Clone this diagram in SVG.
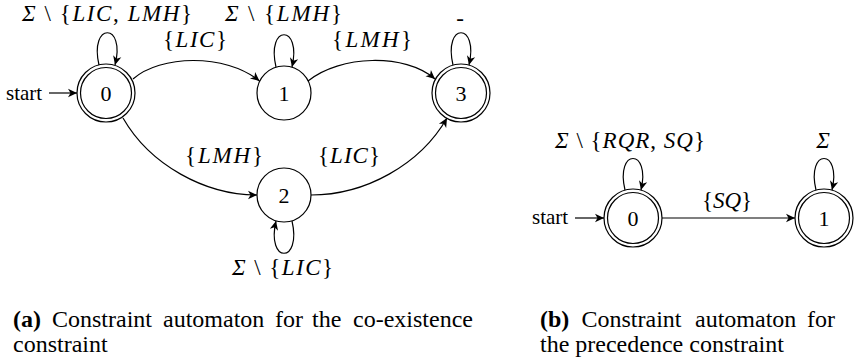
<svg xmlns="http://www.w3.org/2000/svg" width="855" height="361" viewBox="0 0 855 361">
<style>
.st{fill:#fff;stroke:#000;stroke-width:1.2}
.e{fill:none;stroke:#000;stroke-width:1.2;marker-end:url(#ah)}
.d{font-family:"Liberation Serif",serif;font-size:22px;text-anchor:middle;fill:#000}
.m{font-family:"Liberation Serif",serif;font-size:23px;text-anchor:middle;fill:#000}
.i{font-style:italic}
.t{font-family:"Liberation Serif",serif;font-size:21px;fill:#000}
.c{font-family:"Liberation Serif",serif;font-size:24px;fill:#000}
.b{font-weight:bold}
</style>
<defs>
<marker id="ah" markerUnits="userSpaceOnUse" markerWidth="12" markerHeight="12" viewBox="-10 -6 12 12" refX="0" refY="0" orient="auto">
<path d="M0,0 L-9,-4.2 L-6.5,0 L-9,4.2 Z" fill="#000"/>
</marker>
</defs>

<!-- (a) nodes -->
<g id="a0">
<circle class="st" cx="106" cy="93" r="29"/>
<circle class="st" cx="106" cy="93" r="25.5"/>
<text class="d" x="106" y="100.5">0</text>
</g>
<g id="a1">
<circle class="st" cx="284" cy="93" r="27"/>
<text class="d" x="284" y="100.5">1</text>
</g>
<g id="a2">
<circle class="st" cx="284" cy="195" r="27"/>
<text class="d" x="284" y="202.5">2</text>
</g>
<g id="a3">
<circle class="st" cx="461" cy="93" r="29"/>
<circle class="st" cx="461" cy="93" r="25.5"/>
<text class="d" x="461" y="100.5">3</text>
</g>

<!-- (b) nodes -->
<g id="b0">
<circle class="st" cx="633" cy="218" r="29"/>
<circle class="st" cx="633" cy="218" r="25.5"/>
<text class="d" x="633" y="225.5">0</text>
</g>
<g id="b1">
<circle class="st" cx="824" cy="218" r="29"/>
<circle class="st" cx="824" cy="218" r="25.5"/>
<text class="d" x="824" y="225.5">1</text>
</g>

<!-- connectors -->
<g id="connectors">
<path class="e" d="M49,93 L77,93"/>
<path class="e" d="M99,65 C89,22 126,22 115,65"/>
<path class="e" d="M133,79 C160,55 225,53 259.5,81"/>
<path class="e" d="M276,67 C266,24 302,24 292,67"/>
<path class="e" d="M308,81 C340,55 405,53 435,79"/>
<path class="e" d="M453,65 C443,22 479,22 469,65"/>
<path class="e" d="M123,118 C150,165 205,195 257,195"/>
<path class="e" d="M292,221 C302,264 266,264 276,221"/>
<path class="e" d="M311,195 C365,195 420,165 447,118"/>

<path class="e" d="M575,218 L604,218"/>
<path class="e" d="M625,190 C615,148 651,148 641,190"/>
<path class="e" d="M662,218 L795,218"/>
<path class="e" d="M816,190 C806,148 842,148 832,190"/>
</g>

<!-- labels (a) -->
<g id="labels-a">
<text class="t" x="6" y="100">start</text>
<text class="m" x="107" y="21" textLength="170" lengthAdjust="spacing"><tspan class="i">Σ</tspan> \ {<tspan class="i">LIC</tspan>, <tspan class="i">LMH</tspan>}</text>
<text class="m" x="195" y="47" textLength="64" lengthAdjust="spacing">{<tspan class="i">LIC</tspan>}</text>
<text class="m" x="283.5" y="21" textLength="117" lengthAdjust="spacing"><tspan class="i">Σ</tspan> \ {<tspan class="i">LMH</tspan>}</text>
<text class="m" x="372" y="47" textLength="80" lengthAdjust="spacing">{<tspan class="i">LMH</tspan>}</text>
<text class="m" x="460" y="26">-</text>
<text class="m" x="224" y="163" textLength="78" lengthAdjust="spacing">{<tspan class="i">LMH</tspan>}</text>
<text class="m" x="349" y="163" textLength="62" lengthAdjust="spacing">{<tspan class="i">LIC</tspan>}</text>
<text class="m" x="282.5" y="275" textLength="101" lengthAdjust="spacing"><tspan class="i">Σ</tspan> \ {<tspan class="i">LIC</tspan>}</text>
</g>

<!-- labels (b) -->
<g id="labels-b">
<text class="t" x="532" y="224">start</text>
<text class="m" x="630" y="148" textLength="150" lengthAdjust="spacing"><tspan class="i">Σ</tspan> \ {<tspan class="i">RQR</tspan>, <tspan class="i">SQ</tspan>}</text>
<text class="m i" x="823" y="148">Σ</text>
<text class="m" x="727" y="208" textLength="50" lengthAdjust="spacing">{<tspan class="i">SQ</tspan>}</text>
</g>

<!-- captions -->
<g id="caption-a">
<text class="c b" x="13" y="327">(a)</text>
<text class="c" x="52" y="327">Constraint</text>
<text class="c" x="163" y="327">automaton</text>
<text class="c" x="275" y="327">for</text>
<text class="c" x="312" y="327">the</text>
<text class="c" x="473" y="327" text-anchor="end">co-existence</text>
<text class="c" x="13" y="352">constraint</text>
</g>
<g id="caption-b">
<text class="c b" x="540" y="327">(b)</text>
<text class="c" x="581.5" y="327">Constraint</text>
<text class="c" x="695" y="327">automaton</text>
<text class="c" x="835" y="327" text-anchor="end">for</text>
<text class="c" x="540" y="352">the precedence constraint</text>
</g>
</svg>
